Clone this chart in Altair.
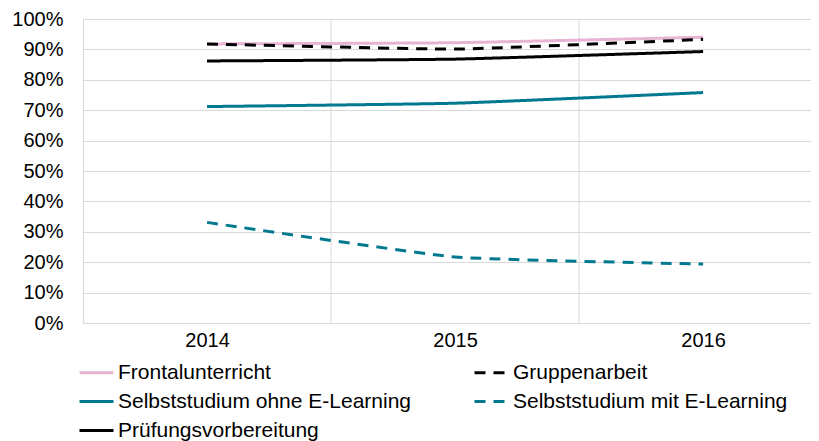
import altair as alt
import pandas as pd

years = [2014, 2015, 2016]
# Legend order (column-major in Vega: first column, then second column)
series = [
    "Frontalunterricht",
    "Selbststudium ohne E-Learning",
    "Prüfungsvorbereitung",
    "Gruppenarbeit",
    "Selbststudium mit E-Learning",
]
frontal = [0.918, 0.922, 0.940]
ohne = [0.712, 0.723, 0.758]
pruef = [0.862, 0.868, 0.893]
gruppen = [0.918, 0.901, 0.933]
mit = [0.331, 0.217, 0.194]
boundaries = [2014.5, 2015.5]

colors = ["#E8B4D4", "#00788F", "#000000", "#000000", "#00788F"]
dashes = [[1, 0], [1, 0], [1, 0], [11, 8], [11, 8]]

rows = []
for name, vals in zip(series, [frontal, ohne, pruef, gruppen, mit]):
    for y, v in zip(years, vals):
        rows.append({"Serie": name, "Jahr": y, "Wert": v})
df = pd.DataFrame(rows)

font = "Liberation Sans"


def legend():
    return alt.Legend(
        title=None, orient="none", legendX=-5, legendY=335, columns=2,
        symbolType="stroke", symbolSize=1156, symbolStrokeWidth=3,
        labelFontSize=21, labelFont=font, labelColor="#000000",
        labelOffset=3, columnPadding=56, rowPadding=-5, padding=0,
        labelLimit=400,
    )


rules = alt.Chart(pd.DataFrame({"b": boundaries})).mark_rule(
    color="#d9d9d9", strokeWidth=1
).encode(x=alt.X("b:Q"))

lines = alt.Chart(df).mark_line(
    strokeWidth=3, interpolate="cardinal", tension=0.6
).encode(
    x=alt.X(
        "Jahr:Q",
        scale=alt.Scale(domain=[2013.5, 2016.435], nice=False, zero=False),
        axis=alt.Axis(
            values=years, format="d", title=None, grid=False, ticks=False,
            domain=False, labelFontSize=20, labelPadding=7, labelColor="#000000",
            labelFont=font,
        ),
    ),
    y=alt.Y(
        "Wert:Q",
        scale=alt.Scale(domain=[0, 1], nice=False),
        axis=alt.Axis(
            values=[i / 10 for i in range(11)], format=".0%", title=None,
            grid=True, gridColor="#d9d9d9", gridWidth=1, ticks=False,
            domainColor="#d9d9d9", domainWidth=1, labelFontSize=20,
            labelPadding=20, labelColor="#000000", labelFont=font,
        ),
    ),
    color=alt.Color(
        "Serie:N",
        scale=alt.Scale(domain=series, range=colors),
        legend=legend(),
    ),
    strokeDash=alt.StrokeDash(
        "Serie:N",
        scale=alt.Scale(domain=series, range=dashes),
        legend=legend(),
    ),
)

chart = alt.layer(rules, lines).properties(
    width=728,
    height=304,
    autosize=alt.AutoSizeParams(type="none"),
    padding={"left": 75, "top": 11, "right": 0, "bottom": 118},
).configure_view(stroke=None).configure(background="white")

chart.save("out.html", embed_options={"renderer": "svg", "actions": False})
